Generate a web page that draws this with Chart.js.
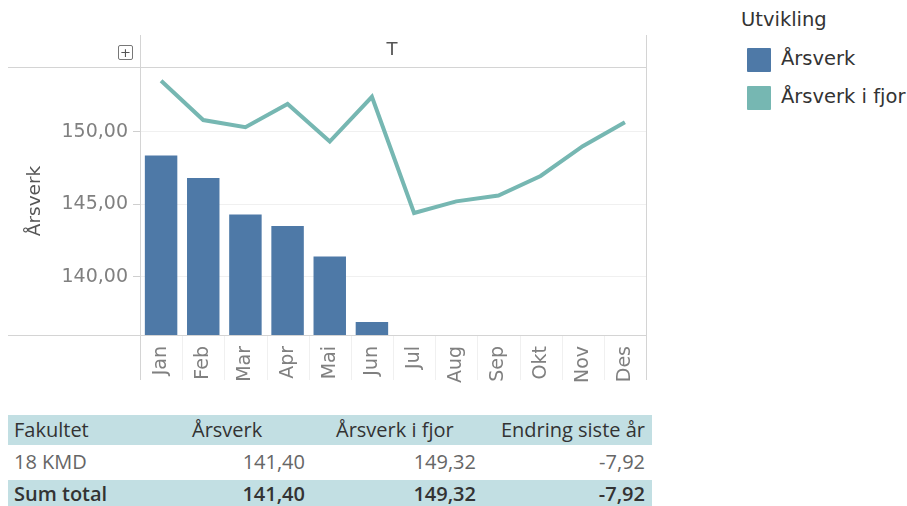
<!DOCTYPE html>
<html>
<head>
<meta charset="utf-8">
<script src="https://cdn.jsdelivr.net/npm/chart.js@4.4.1/dist/chart.umd.min.js"></script>
<style>
  html, body { margin: 0; padding: 0; background: #fff; }
  body { width: 907px; height: 506px; position: relative; overflow: hidden; font-family: "DejaVu Sans", sans-serif; }
  #wrap { position: absolute; left: 0; top: 0; width: 660px; height: 390px; }
  .hdr-t { position: absolute; left: 382px; top: 38px; width: 20px; text-align: center; font-size: 18px; line-height: 22px; color: #555; }
  .plus { position: absolute; left: 118px; top: 45px; width: 13px; height: 13px; border: 1.5px solid #777; border-radius: 2px; font-size: 13px; line-height: 13px; text-align: center; color: #555; }
  .lg { position: absolute; color: #333; font-size: 19.5px; line-height: 24px; white-space: nowrap; }
  .sw { position: absolute; width: 24px; height: 24px; border-radius: 1px; }
  .row { position: absolute; left: 8px; width: 644px; height: 30px; font-family: "Open Sans", sans-serif; font-size: 20px; line-height: 30px; }
  .row span { position: absolute; top: 0; white-space: nowrap; }
  .row.h, .row.t { background: #c2dfe3; color: #333; }
  .row.r { color: #666; }
  .row.t { font-weight: 600; height: 26px; }
</style>
</head>
<body>
<div id="wrap"><canvas id="c"></canvas></div>
<div class="plus">+</div>
<div class="hdr-t">T</div>

<div class="lg" style="left:741px; top:8px">Utvikling</div>
<div class="sw" style="left:747px; top:48px; background:#4e79a7"></div>
<div class="lg" style="left:781px; top:47px">Årsverk</div>
<div class="sw" style="left:747px; top:86px; background:#76b7b2"></div>
<div class="lg" style="left:781px; top:85px">Årsverk i fjor</div>

<div class="row h" style="top:415px">
  <span style="left:6px">Fakultet</span>
  <span style="left:184px">Årsverk</span>
  <span style="left:328px">Årsverk i fjor</span>
  <span style="right:7px">Endring siste år</span>
</div>
<div class="row r" style="top:447px">
  <span style="left:6px">18 KMD</span>
  <span style="right:347px">141,40</span>
  <span style="right:176px">149,32</span>
  <span style="right:7px">-7,92</span>
</div>
<div class="row t" style="top:480px">
  <span style="left:6px; top:-1px">Sum total</span>
  <span style="right:347px; top:-1px">141,40</span>
  <span style="right:176px; top:-1px">149,32</span>
  <span style="right:7px; top:-1px">-7,92</span>
</div>

<script>
const MONTHS = ['Jan', 'Feb', 'Mar', 'Apr', 'Mai', 'Jun', 'Jul', 'Aug', 'Sep', 'Okt', 'Nov', 'Des'];
const AARSVERK = [148.35, 146.8, 144.3, 143.5, 141.4, 136.9, null, null, null, null, null, null];
const AARSVERK_FJOR = [153.5, 150.8, 150.3, 151.9, 149.32, 152.4, 144.4, 145.2, 145.6, 146.95, 149.0, 150.65];
const Y_TICKS = [140, 145, 150];

const fmt = v => v.toFixed(2).replace('.', ',');

// frame lines like the Tableau sheet
const framePlugin = {
    id: 'frame',
    afterDraw(chart) {
        const { ctx, chartArea: a } = chart;
        const xs = chart.scales.x;
        ctx.save();
        ctx.lineWidth = 1;
        ctx.strokeStyle = '#f0f0f0';
        for (let i = 1; i < MONTHS.length; i++) {
            const x = Math.round((xs.getPixelForValue(i - 1) + xs.getPixelForValue(i)) / 2) + 0.5;
            ctx.beginPath(); ctx.moveTo(x, a.bottom); ctx.lineTo(x, a.bottom + 45); ctx.stroke();
        }
        ctx.strokeStyle = '#d4d4d4';
        ctx.beginPath();
        ctx.moveTo(8, a.top + 0.5); ctx.lineTo(a.right, a.top + 0.5);
        ctx.moveTo(8, a.bottom + 0.5); ctx.lineTo(a.right, a.bottom + 0.5);
        ctx.moveTo(a.left + 0.5, 35); ctx.lineTo(a.left + 0.5, a.bottom + 45);
        ctx.moveTo(a.right + 0.5, 35); ctx.lineTo(a.right + 0.5, a.bottom + 45);
        ctx.stroke();
        ctx.restore();
    }
};

new Chart(document.getElementById('c'), {
    type: 'bar',
    data: {
        labels: MONTHS,
        datasets: [
            {
                type: 'line',
                label: 'Årsverk i fjor',
                data: AARSVERK_FJOR,
                borderColor: '#76b7b2',
                borderWidth: 4,
                pointRadius: 0,
                tension: 0,
                fill: false,
                order: 0
            },
            {
                label: 'Årsverk',
                data: AARSVERK,
                backgroundColor: '#4e79a7',
                barPercentage: 0.77,
                categoryPercentage: 1,
                order: 1
            }
        ]
    },
    options: {
        responsive: true,
        maintainAspectRatio: false,
        animation: false,
        layout: { padding: { top: 67, right: 14, left: 0, bottom: 0 } },
        plugins: { legend: { display: false }, tooltip: { enabled: false } },
        scales: {
            x: {
                grid: { display: false },
                border: { display: false },
                ticks: {
                    minRotation: 90, maxRotation: 90, padding: 3,
                    color: '#808080', font: { family: 'DejaVu Sans', size: 19 }
                },
                afterFit: s => { s.height = 55; }
            },
            y: {
                min: 136,
                max: 154.45,
                afterBuildTicks: s => { s.ticks = Y_TICKS.map(v => ({ value: v })); },
                grid: { color: '#f0f0f0', tickColor: '#cfcfcf', tickLength: 7 },
                border: { display: false },
                ticks: {
                    padding: 5, color: '#808080',
                    font: { family: 'DejaVu Sans', size: 19 },
                    callback: v => fmt(v)
                },
                title: {
                    display: true, text: 'Årsverk', color: '#555',
                    font: { family: 'DejaVu Sans', size: 18.5 },
                    padding: { top: 24, bottom: 0 }
                },
                afterFit: s => { s.width = 140; }
            }
        }
    },
    plugins: [framePlugin]
});
</script>
</body>
</html>
